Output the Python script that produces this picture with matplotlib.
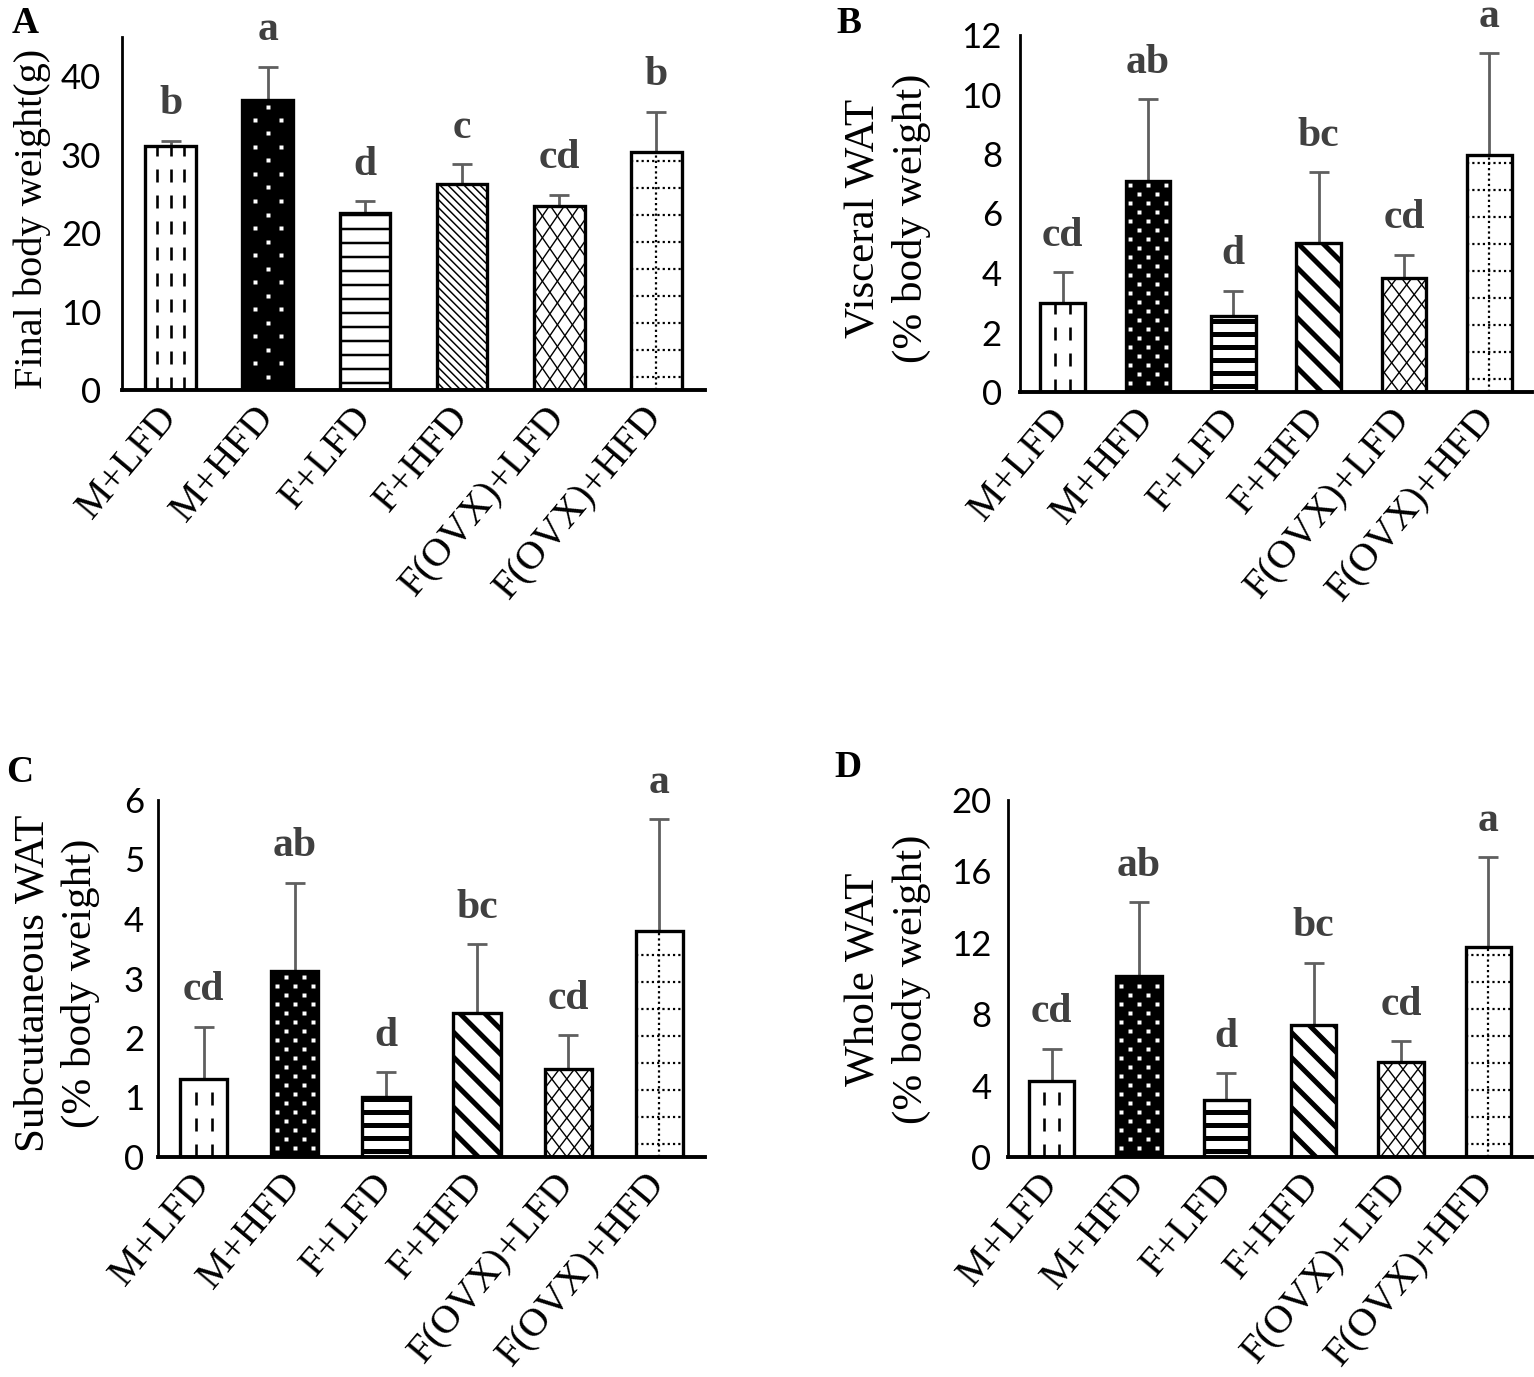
import numpy as np
import matplotlib
matplotlib.use("Agg")
import matplotlib.pyplot as plt
from matplotlib.lines import Line2D
from matplotlib.transforms import ScaledTranslation

# ── Figure size (pixels) ──────────────────────────────────────────────────
W_PX, H_PX = 1534, 1377
DPI = 100
PT = 72.0 / DPI          # points per pixel

SERIF = ["Liberation Serif", "DejaVu Serif"]
NARROW = ["Liberation Sans Narrow", "Lato", "DejaVu Sans"]

# ── Data ──────────────────────────────────────────────────────────────────
GROUPS = ["M+LFD", "M+HFD", "F+LFD", "F+HFD", "F(OVX)+LFD", "F(OVX)+HFD"]

# A: final body weight (g)
BW_MEAN = [31.1, 37.0, 22.6, 26.2, 23.4, 30.4]
BW_SD = [0.7, 4.2, 1.5, 2.6, 1.5, 5.1]
BW_SIG = ["b", "a", "d", "c", "cd", "b"]
BW_TICKS = [0, 10, 20, 30, 40]

# B: visceral WAT (% body weight)
VIS_MEAN = [2.99, 7.09, 2.57, 5.00, 3.83, 7.98]
VIS_SD = [1.03, 2.75, 0.83, 2.39, 0.78, 3.40]
VIS_SIG = ["cd", "ab", "d", "bc", "cd", "a"]
VIS_TICKS = [0, 2, 4, 6, 8, 10, 12]

# C: subcutaneous WAT (% body weight)
SUB_MEAN = [1.31, 3.13, 1.01, 2.42, 1.48, 3.79]
SUB_SD = [0.88, 1.48, 0.42, 1.16, 0.57, 1.89]
SUB_SIG = ["cd", "ab", "d", "bc", "cd", "a"]
SUB_TICKS = [0, 1, 2, 3, 4, 5, 6]

# D: whole WAT (% body weight)
WHO_MEAN = [4.28, 10.14, 3.19, 7.42, 5.30, 11.77]
WHO_SD = [1.79, 4.13, 1.50, 3.47, 1.18, 5.04]
WHO_SIG = ["cd", "ab", "d", "bc", "cd", "a"]
WHO_TICKS = [0, 4, 8, 12, 16, 20]

# fill pattern per group
PATTERNS = ["vdash", "dots", "hlines", "diag", "xhatch", "dotgrid"]

BAR_W = 0.52
ERR_C = "#5f5f5f"
SIG_C = "#404040"

# pattern geometry in pixels: fine (panel A) and coarse (panels B-D)
FINE = dict(vcols=[0.23, 0.5, 0.77], dot_dx=13, dot_dy=27, dot_ms=4,
            h_sp=14, h_lw=2.5, d_per=8, d_lw=1.5, x_per=15, x_slope=1.45)
COARSE = dict(vcols=[0.33, 0.67], dot_dx=9, dot_dy=18, dot_ms=3.5,
              h_sp=13, h_lw=5, d_per=25, d_lw=5, x_per=15, x_slope=1.3)


def add_clipped(ax, clip, xs, ys, **kw):
    ln = ax.add_line(Line2D(xs, ys, **kw))
    ln.set_clip_path(clip)     # after add_line, or the axes clip wins


def decorate(ax, bar, kind, kx, ky, g):
    x0, w, h = bar.get_x(), bar.get_width(), bar.get_height()
    wpx, hpx = w * kx, h * ky
    if kind == "vdash":
        for f in g["vcols"]:
            add_clipped(ax, bar, [x0 + f * w] * 2, [0, h], color="black",
                        lw=2.6 * PT, ls=(0, (5, 5)))
    elif kind == "dots":
        xs, ys = [], []
        n = int(wpx // g["dot_dx"]) + 1
        for k in range(-n, n + 1):
            cx = wpx / 2 + k * g["dot_dx"]
            if cx < 3 or cx > wpx - 3:
                continue
            off = g["dot_dy"] / 2 if k % 2 else 0
            yy = np.arange(g["dot_dy"] / 2 + off, hpx - 2, g["dot_dy"])
            xs += [x0 + cx / kx] * len(yy)
            ys += list(yy / ky)
        add_clipped(ax, bar, xs, ys, ls="none", marker="s",
                    ms=g["dot_ms"] * PT, mfc="white", mec="none")
    elif kind == "hlines":
        for y in np.arange(g["h_sp"] / 2, hpx, g["h_sp"]):
            add_clipped(ax, bar, [x0, x0 + w], [y / ky] * 2, color="black",
                        lw=g["h_lw"] * PT)
    elif kind == "diag":
        for c in np.arange(0, wpx + hpx + g["d_per"], g["d_per"]):
            add_clipped(ax, bar, [x0 + c / kx, x0 + (c - hpx) / kx], [0, h],
                        color="black", lw=g["d_lw"] * PT)
    elif kind == "xhatch":
        s = g["x_slope"]
        span = hpx / s
        for c in np.arange(-span - g["x_per"], wpx + span + g["x_per"], g["x_per"]):
            add_clipped(ax, bar, [x0 + c / kx, x0 + (c + span) / kx], [0, h],
                        color="black", lw=1.4 * PT)
            add_clipped(ax, bar, [x0 + c / kx, x0 + (c - span) / kx], [0, h],
                        color="black", lw=1.4 * PT)
    elif kind == "dotgrid":
        dot = dict(color="black", lw=2.2 * PT, ls=(0, (1, 1.4)))
        add_clipped(ax, bar, [x0 + w / 2] * 2, [0, h], **dot)
        for y in np.arange(13, hpx - 2, 27):
            add_clipped(ax, bar, [x0, x0 + w], [y / ky] * 2, **dot)


def draw_panel(fig, rect_px, means, sds, sigs, ticks, ymax, geom, ytick_pad):
    L, T, R, B = rect_px
    ax = fig.add_axes([L / W_PX, 1 - B / H_PX, (R - L) / W_PX, (B - T) / H_PX])
    x = np.arange(len(GROUPS))
    ax.set_xlim(-0.5, len(GROUPS) - 0.5)
    ax.set_ylim(0, ymax)
    kx = (R - L) / len(GROUPS)
    ky = (B - T) / ymax

    ax.errorbar(x, means, yerr=[np.zeros(len(sds)), sds], fmt="none",
                ecolor=ERR_C, elinewidth=2.0, capsize=7.2, capthick=2.0,
                zorder=1)
    faces = ["black" if p == "dots" else "white" for p in PATTERNS]
    fills = ax.bar(x, means, width=BAR_W, color=faces, edgecolor="none",
                   zorder=2)
    for bar, kind in zip(fills, PATTERNS):
        decorate(ax, bar, kind, kx, ky, geom)
    ax.bar(x, means, width=BAR_W, fill=False, edgecolor="black",
           linewidth=2.4, zorder=4)

    for xi, m, s, lab in zip(x, means, sds, sigs):
        ax.annotate(lab, (xi, m + s), xytext=(0, 19), textcoords="offset points",
                    ha="center", va="baseline", fontsize=30, fontweight="bold",
                    family=SERIF, color=SIG_C, annotation_clip=False)

    ax.set_xticks(x, GROUPS, rotation=50, ha="right", va="center",
                  rotation_mode="anchor", fontsize=29, family=SERIF)
    shift = ScaledTranslation(-15 / DPI, 0, fig.dpi_scale_trans)
    for lbl in ax.get_xticklabels():
        lbl.set_transform(lbl.get_transform() + shift)
    ax.set_yticks(ticks, [str(t) for t in ticks], fontsize=25, family=NARROW)
    ax.tick_params(axis="x", length=0, pad=15)
    ax.tick_params(axis="y", length=0, pad=ytick_pad)
    for side in ("top", "right"):
        ax.spines[side].set_visible(False)
    ax.spines["left"].set_linewidth(2.0)
    ax.spines["bottom"].set_linewidth(2.8)
    ax.set_xlim(-0.5, len(GROUPS) - 0.5)
    ax.set_ylim(0, ymax)
    return ax


def fig_text(fig, x_px, y_px, s, **kw):
    fig.text(x_px / W_PX, 1 - y_px / H_PX, s, **kw)


def main():
    fig = plt.figure(figsize=(W_PX / DPI, H_PX / DPI), dpi=DPI)

    draw_panel(fig, (122, 37, 705, 390), BW_MEAN, BW_SD, BW_SIG, BW_TICKS,
               45, FINE, 15)
    draw_panel(fig, (1020, 35, 1532, 392), VIS_MEAN, VIS_SD, VIS_SIG,
               VIS_TICKS, 12, COARSE, 13)
    draw_panel(fig, (158, 800, 705, 1157), SUB_MEAN, SUB_SD, SUB_SIG,
               SUB_TICKS, 6, COARSE, 10)
    draw_panel(fig, (1008, 800, 1532, 1157), WHO_MEAN, WHO_SD, WHO_SIG,
               WHO_TICKS, 20, COARSE, 12)

    # panel letters
    letter = dict(fontsize=27, fontweight="bold", family=SERIF,
                  ha="left", va="baseline")
    fig_text(fig, 12, 33, "A", **letter)
    fig_text(fig, 836, 33, "B", **letter)
    fig_text(fig, 6, 782, "C", **letter)
    fig_text(fig, 834, 777, "D", **letter)

    # y-axis titles
    ylab = dict(rotation=90, ha="center", va="center", multialignment="center",
                family=SERIF, linespacing=1.25)
    fig_text(fig, 32, 219, "Final body weight(g)", fontsize=29, **ylab)
    fig_text(fig, 888, 218, "Visceral WAT\n(% body weight)", fontsize=31, **ylab)
    fig_text(fig, 57, 983, "Subcutaneous WAT\n(% body weight)", fontsize=31, **ylab)
    fig_text(fig, 888, 979, "Whole WAT\n(% body weight)", fontsize=31, **ylab)

    fig.savefig("out.png", dpi=DPI)


if __name__ == "__main__":
    main()
